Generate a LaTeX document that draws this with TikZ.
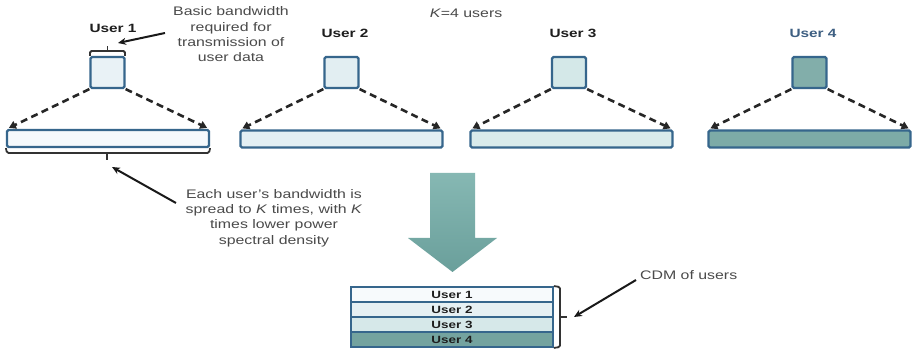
\documentclass[tikz,border=0pt]{standalone}
\usepackage{fontspec}
\setmainfont{Liberation Sans}[FakeStretch=1.28]
\usetikzlibrary{arrows.meta,calc}
\definecolor{bordblue}{HTML}{36668C}
\definecolor{anngray}{HTML}{4A4A4A}
\definecolor{lblblack}{HTML}{1E1E1E}
\definecolor{u4blue}{HTML}{3E5F82}
\definecolor{boxa}{HTML}{E9F2F6}
\definecolor{boxb}{HTML}{E2EEF2}
\definecolor{boxc}{HTML}{D4E8E8}
\definecolor{boxd}{HTML}{82AEAA}
\definecolor{bara}{HTML}{F5F9FC}
\definecolor{barb}{HTML}{E3EFF3}
\definecolor{barc}{HTML}{D9EBEB}
\definecolor{bard}{HTML}{7DABA7}
\definecolor{rowa}{HTML}{F7FAFC}
\definecolor{rowb}{HTML}{E6F0F3}
\definecolor{rowc}{HTML}{D6E8E9}
\definecolor{rowd}{HTML}{74A39F}
\definecolor{arrtop}{HTML}{86B8B3}
\definecolor{arrbot}{HTML}{6A9F9B}
\tikzset{
  sbox/.style={draw=bordblue, line width=2.2pt, rounded corners=1.5pt, minimum width=34pt, minimum height=31pt, inner sep=0pt},
  wbar/.style={draw=bordblue, line width=2.2pt, rounded corners=1.5pt, minimum width=202pt, minimum height=17pt, inner sep=0pt},
  srow/.style={draw=bordblue, line width=1.8pt, minimum width=202pt, minimum height=15pt, inner sep=0pt, font=\fontsize{10.5}{12}\selectfont\bfseries, text=lblblack},
  ulabel/.style={font=\fontsize{12}{14}\selectfont\bfseries, text=lblblack, inner sep=0pt},
  ann/.style={font=\fontsize{12.4}{15.3}\selectfont, text=anngray, align=center, inner sep=0pt},
  spread/.style={draw=black!85, line width=2.6pt, dash pattern=on 7pt off 4.5pt, -{Triangle[length=7pt,width=8pt]}},
  callout/.style={draw=black!90, line width=2pt, -{Stealth[length=8pt,width=7pt]}},
  bracket/.style={draw=black!80, line width=1.8pt, rounded corners=1.5pt}
}
\begin{document}
\begin{tikzpicture}[x=1pt,y=-1pt]
\useasboundingbox[fill=white] (0,0) rectangle (914,352);

% small boxes
\node[sbox, fill=boxa] (b1) at (107.5,72.5) {};
\node[sbox, fill=boxb] (b2) at (341.5,72.5) {};
\node[sbox, fill=boxc] (b3) at (569,72.5) {};
\node[sbox, fill=boxd] (b4) at (809.5,72.5) {};

% labels
\node[ulabel] (l1) at (113,28) {User 1};
\node[ulabel] (l2) at (345,33) {User 2};
\node[ulabel] (l3) at (573,33) {User 3};
\node[ulabel, text=u4blue] (l4) at (813,33) {User 4};
\node[ann] (kusers) at (466,13) {\textit{K}=4 users};

% wide bars
\node[wbar, fill=bara] (w1) at (108,138.5) {};
\node[wbar, fill=barb] (w2) at (341.5,139) {};
\node[wbar, fill=barc] (w3) at (571.5,139) {};
\node[wbar, fill=bard] (w4) at (809.5,139) {};

% dashed spreading arrows
\foreach \i in {1,2,3,4}{
  \draw[spread] (b\i.south west) -- ($(w\i.north west)+(3,-1)$);
  \draw[spread] (b\i.south east) -- ($(w\i.north east)+(-3,-1)$);
}

% bracket above box 1
\draw[bracket] (90,56) -- (90,51) -- (125,51) -- (125,56);
\draw[bracket] (107.5,51) -- (107.5,46);
\coordinate (t1) at (118,43);
\coordinate (s1) at (165,33);
\node[ann] (basic) at (231,34.5) {Basic bandwidth\\required for\\transmission of\\user data};
\draw[callout] (s1) -- (t1);

% bracket below bar 1
\draw[bracket] (w1.south west) -- (7,153) -- (209,153) -- (w1.south east);
\draw[bracket] (107,153) -- (107,160);
\coordinate (t2) at (112,167);
\coordinate (s2) at (176,203);
\node[ann] (each) at (274,218) {Each user's bandwidth is\\spread to \textit{K} times, with \textit{K}\\times lower power\\spectral density};
\draw[callout] (s2) -- (t2);

% big down arrow
\shade[top color=arrtop, bottom color=arrbot] (430,173) -- (475,173) -- (475,238) -- (497,238) -- (452.5,272) -- (408,238) -- (430,238) -- cycle;

% stacked CDM rows
\node[srow, fill=rowa] (r1) at (452,294.5) {User 1};
\node[srow, fill=rowb] (r2) at (452,309.5) {User 2};
\node[srow, fill=rowc] (r3) at (452,324.5) {User 3};
\node[srow, fill=rowd] (r4) at (452,339.5) {User 4};

% bracket right of stack
\draw[bracket] (r1.north east) -- (560,287) -- (560,347) -- (r4.south east);
\draw[bracket] (560,317) -- (567,317);
\coordinate (t3) at (574,317);
\coordinate (s3) at (636,280);
\node[ann, anchor=west] (cdm) at (640,275) {CDM of users};
\draw[callout] (s3) -- (t3);
\end{tikzpicture}
\end{document}
